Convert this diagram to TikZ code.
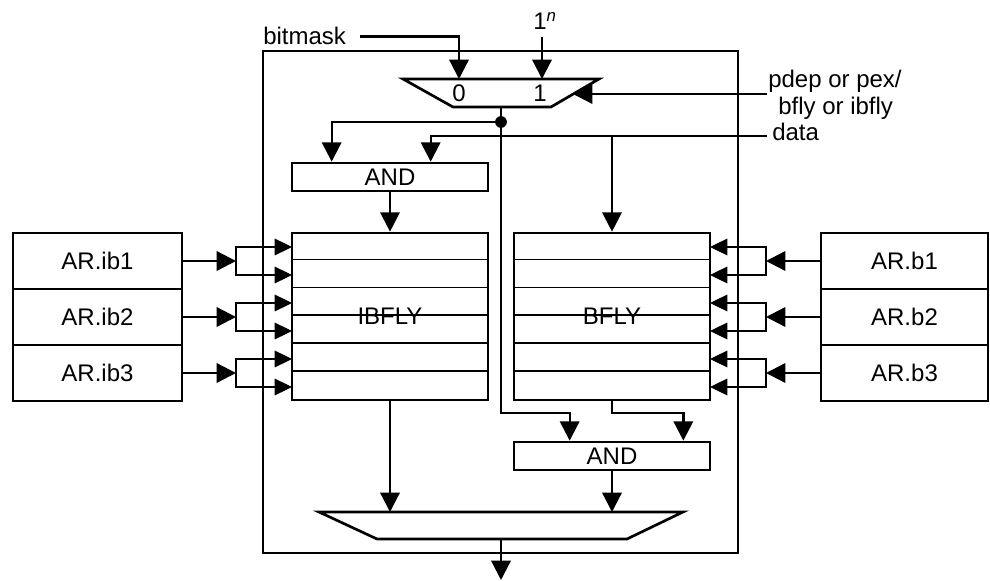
\documentclass[tikz,border=0pt]{standalone}
\usepackage{fontspec}
\setmainfont{Liberation Sans}
\usetikzlibrary{arrows.meta,calc}
\begin{document}
\begin{tikzpicture}[x=0.75pt,y=-0.75pt,
  lbl/.style={font=\fontsize{18}{21}\selectfont, inner sep=0pt},
  wire/.style={line width=1.75pt},
  thinwire/.style={line width=0.8pt},
  rowline/.style={line width=1.2pt},
  arr/.style={-{Triangle[length=14.5pt,width=14.5pt]}},
  stip/.style={{Triangle[length=13pt,width=12.5pt]}-{Triangle[length=13pt,width=12.5pt]}},
  box/.style={draw, line width=2pt, inner sep=0pt, font=\fontsize{18}{21}\selectfont},
  mux/.style={line width=2pt, line join=miter}
]
\useasboundingbox (0,0) rectangle (990,581);

% outer frame
\node[draw, line width=1.9pt, minimum width=475*0.75pt, minimum height=502*0.75pt] (outer) at (500.5,302) {};

% top multiplexer
\draw[mux] (403,79) -- (599,79) -- (551,107) -- (453,107) -- cycle;
\coordinate (m0) at (459,79);
\coordinate (m1) at (542,79);
\coordinate (msel) at (573,94);
\coordinate (mout) at (501,107);
\node[lbl] (zero) at (459,93) {0};
\node[lbl] (one) at (540,93) {1};

% labels
\node[lbl, anchor=base west] (bitmask) at (263,45) {bitmask};
\node[lbl, anchor=base west] (ones) at (533,30) {1\textsuperscript{\itshape n}};
\node[lbl, anchor=base west] (pdep) at (768,88) {pdep or pex/};
\node[lbl, anchor=base west] (bflylbl) at (778,115) {bfly or ibfly};
\node[lbl, anchor=base west] (data) at (772,141) {data};
\coordinate (onesin) at (542,37);
\coordinate (selin) at (767,94);
\coordinate (datain) at (767,136);
\coordinate (dot) at (501,122);

% boxes
\node[box, minimum width=196*0.75pt, minimum height=28*0.75pt] (and1) at (390,177) {AND};
\node[box, minimum width=196*0.75pt, minimum height=167*0.75pt] (ibfly) at (390,316.5) {IBFLY};
\node[box, minimum width=196*0.75pt, minimum height=167*0.75pt] (bfly) at (612,316.5) {BFLY};
\node[box, minimum width=196*0.75pt, minimum height=28*0.75pt] (and2) at (612,456) {AND};
\foreach \k in {1,...,5} {
  \draw[rowline] ([yshift=-\k*27.83*0.75pt]ibfly.north west) -- ([yshift=-\k*27.83*0.75pt]ibfly.north east);
  \draw[rowline] ([yshift=-\k*27.83*0.75pt]bfly.north west) -- ([yshift=-\k*27.83*0.75pt]bfly.north east);
}

% bottom multiplexer
\draw[mux] (319,512) -- (683,512) -- (627,539) -- (377,539) -- cycle;
\coordinate (o1) at (390,512);
\coordinate (o2) at (612,512);
\coordinate (oout) at (501,539);
\coordinate (result) at (501,580);

% connectors at the top
\draw[wire,arr] ([xshift=14*0.75pt]bitmask.east) -| (m0);
\draw[wire,arr] (onesin) -- (m1);
\draw[wire,arr] (selin) -- (msel);
\draw[wire,arr] (mout) -- (501,413) -| ($(and2.north west)+(57,0)$);
\fill (dot) circle[radius=4.4pt];
\draw[wire,arr] (dot) -| ($(and1.north west)+(41,0)$);
\draw[wire,arr] (datain) -| ($(and1.north west)+(140,0)$);
\draw[wire,arr] (bfly.north |- datain) -- (bfly.north);
\draw[wire,arr] (and1.south) -- (ibfly.north);

% connectors at the bottom
\draw[wire,arr] (ibfly.south) -- (o1);
\draw[wire,arr] (bfly.south) -- (612,413) -| ($(and2.north east)+(-28,0)$);
\draw[wire,arr] (and2.south) -- (o2);
\draw[wire,arr] (oout) -- (result);

% register files
\foreach \i/\y in {1/261,2/317,3/373} {
  \node[box, minimum width=169*0.75pt, minimum height=56*0.75pt] (arib\i) at (97.5,\y) {AR.ib\i};
  \node[box, minimum width=167*0.75pt, minimum height=56*0.75pt] (arb\i) at (904.5,\y) {AR.b\i};
  \draw[wire,arr] (arib\i.east) -- (236,\y);
  \draw[thinwire,stip] (292,{\y-14}) -- (236,{\y-14}) -- (236,{\y+14}) -- (292,{\y+14});
  \draw[wire,arr] (arb\i.west) -- (766,\y);
  \draw[thinwire,stip] (710,{\y-14}) -- (766,{\y-14}) -- (766,{\y+14}) -- (710,{\y+14});
}
\end{tikzpicture}
\end{document}
